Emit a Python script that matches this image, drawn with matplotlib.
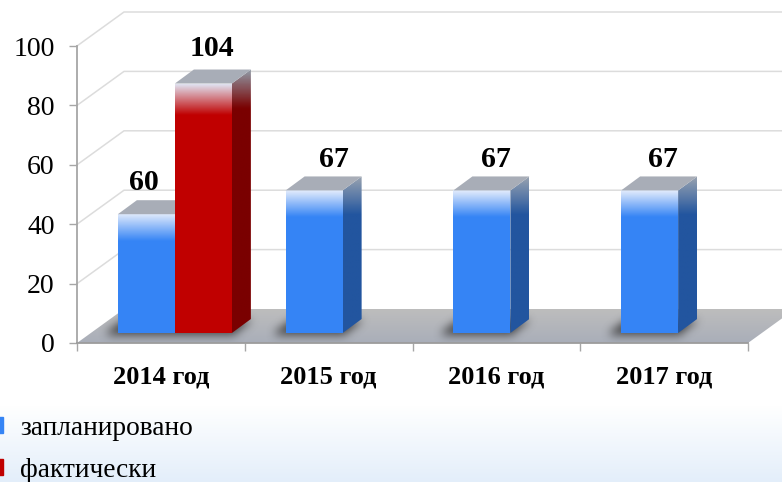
import numpy as np
import matplotlib
matplotlib.use("Agg")
import matplotlib.pyplot as plt
from matplotlib.colors import to_rgb
from matplotlib.patches import Patch, Polygon

years = ["2014 год", "2015 год", "2016 год", "2017 год"]
# bar heights as read on the axis, the printed labels differ from them in the original
planned = [40, 48, 48, 48]
actual = [84, None, None, None]
planned_labels = ["60", "67", "67", "67"]
actual_labels = ["104", None, None, None]
y_ticks = [0, 20, 40, 60, 80, 100]

W, H = 782, 482
px_x = 671 / 4      # pixels per category
px_y = 297 / 100    # pixels per y unit

# depth of the fake 3d box
depth_x = 47 / px_x
depth_y = 34 / px_y
bar_w = 57 / px_x
bar_shift_x = 14 / px_x
bar_shift_y = 10 / px_y
bar_depth_x = 19 / px_x
bar_depth_y = 14 / px_y

plt.rcParams["font.family"] = ["Liberation Serif", "DejaVu Serif"]

fig = plt.figure(figsize=(W / 100, H / 100), dpi=100)

# page background, white fading to pale blue at the bottom
bg = fig.add_axes([0, 0, 1, 1], zorder=-1)
bg.axis("off")
stops = np.interp(np.arange(H), [0, 405, 482], [0, 0, 1])[:, None, None]
bg.imshow((1 - stops) * np.array([1, 1, 1]) + stops * np.array(to_rgb("#e3eefa")), aspect="auto")

ax = fig.add_axes([77 / W, (H - 343) / H, 671 / W, 297 / H])
ax.patch.set_visible(False)

floor_pts = [(0, 0), (4, 0), (4 + depth_x, depth_y), (depth_x, depth_y)]


def shade(points, y_top, y_bottom, c_top, c_bottom, zorder):
    # polygon filled with a vertical gradient
    xs = [p[0] for p in points]
    ys = [p[1] for p in points]
    t = np.linspace(0, 1, 64)[:, None, None]
    img = (1 - t) * np.array(to_rgb(c_top)) + t * np.array(to_rgb(c_bottom))
    # colour stays c_bottom below y_bottom
    rows = np.linspace(max(ys), min(ys), 128)
    frac = np.clip((y_top - rows) / (y_top - y_bottom), 0, 1)
    img = img[(frac * 63).astype(int)]
    im = ax.imshow(img, extent=(min(xs), max(xs), min(ys), max(ys)), aspect="auto",
                   zorder=zorder, interpolation="bilinear")
    clip = Polygon(points, closed=True, transform=ax.transData)
    im.set_clip_box(fig.bbox)
    im.set_clip_path(clip)


def draw_shadow(x0, x1):
    # blurred dark patch on the floor around the foot of a bar, worked out in pixels
    pad = 30
    w_px = int((x1 - x0) * px_x) + 19 + 2 * pad
    h_px = 14 + 2 * pad
    xx, yy = np.meshgrid(np.arange(w_px), np.arange(h_px))
    up = yy - pad          # 0 at the front edge of the foot, 14 at its back
    lean = np.clip(up, 0, 14) * 19 / 14
    inside = (xx - pad > lean - 12) & (xx - pad < lean + (x1 - x0) * px_x + 3) & (up > -3) & (up < 13)
    mask = inside.astype(float)
    kernel = np.ones(9) / 9
    for _ in range(3):
        mask = np.apply_along_axis(lambda r: np.convolve(r, kernel, mode="same"), 0, mask)
        mask = np.apply_along_axis(lambda r: np.convolve(r, kernel, mode="same"), 1, mask)
    img = np.zeros((h_px, w_px, 4))
    img[..., :3] = to_rgb("#262626")
    img[..., 3] = mask * 0.8
    extent = (x0 - pad / px_x, x0 - pad / px_x + w_px / px_x,
              bar_shift_y - pad / px_y, bar_shift_y - pad / px_y + h_px / px_y)
    im = ax.imshow(img, extent=extent, origin="lower", aspect="auto", zorder=2,
                   interpolation="bilinear")
    im.set_clip_box(fig.bbox)
    im.set_clip_path(Polygon(floor_pts, closed=True, transform=ax.transData))


def draw_bar(left, height, front, side, light, side_top, fade, zorder):
    y0 = bar_shift_y
    y1 = y0 + height
    right = left + bar_w
    ax.bar(left, height, bar_w, bottom=y0, align="edge", color=front, zorder=zorder, clip_on=False)
    # front highlight
    shade([(left, y1), (right, y1), (right, y1 - fade / px_y), (left, y1 - fade / px_y)],
          y1, y1 - fade / px_y, light, front, zorder + 0.1)
    # right side
    shade([(right, y0), (right + bar_depth_x, y0 + bar_depth_y),
           (right + bar_depth_x, y1 + bar_depth_y), (right, y1)],
          y1 + bar_depth_y, y1 - 24 / px_y, side_top, side, zorder + 0.1)
    # top
    ax.add_patch(Polygon([(left, y1), (right, y1), (right + bar_depth_x, y1 + bar_depth_y),
                          (left + bar_depth_x, y1 + bar_depth_y)],
                         closed=True, fc="#a8adb7", ec="none", zorder=zorder + 0.1, clip_on=False))


# wall grid
for v in y_ticks[1:]:
    ax.plot([0, depth_x, 4 + depth_x], [v, v + depth_y, v + depth_y], color="#dcdcdc", lw=1.1,
            zorder=1, clip_on=False)

# floor
shade(floor_pts, depth_y, 0, "#bdbdbd", "#a9aeb9", 1.5)

for i in range(len(years)):
    left = i + 0.5 - bar_w + bar_shift_x
    draw_shadow(left, left + (2 * bar_w if actual[i] is not None else bar_w))

# red in front of the blue side, drawn from left to right
for i, year in enumerate(years):
    left = i + 0.5 - bar_w + bar_shift_x
    draw_bar(left, planned[i], "#3584f5", "#22559f", "#e3ecfc", "#98a2b0", 27, 3)
    if actual[i] is not None:
        draw_bar(left + bar_w, actual[i], "#c00000", "#7a0000", "#e0e0ee", "#8f98a4", 31, 4)

# value labels, placed by hand on the slide
label_style = dict(ha="center", va="bottom", fontsize=21.5, fontweight="bold", color="black", zorder=6)
planned_dx = [-3, 20, 14, 13]
for i, text in enumerate(planned_labels):
    left = i + 0.5 - bar_w + bar_shift_x
    ax.annotate(text, (left + bar_w / 2, planned[i] + bar_shift_y + bar_depth_y),
                xytext=(planned_dx[i] * 0.72, 2.8), textcoords="offset points", **label_style)
for i, text in enumerate(actual_labels):
    if text is not None:
        left = i + 0.5 + bar_shift_x
        ax.annotate(text, (left + bar_w / 2, actual[i] + bar_shift_y + bar_depth_y),
                    xytext=(6, 5.5), textcoords="offset points", **label_style)

ax.set_xlim(0, 4)
ax.set_ylim(0, 100)
ax.set_yticks(y_ticks)
ax.set_xticks([0, 1, 2, 3, 4])
ax.set_xticklabels([])
ax.set_xticks([i + 0.5 for i in range(4)], minor=True)
ax.set_xticklabels(years, minor=True, fontsize=19, fontweight="bold")
ax.tick_params(axis="x", which="major", length=6, width=1, color="#a6a6a6")
ax.tick_params(axis="x", which="minor", length=0, pad=16.5)
ax.tick_params(axis="y", length=5.5, width=1, color="#a6a6a6", labelsize=20, pad=10.5)
for s in ["top", "right"]:
    ax.spines[s].set_visible(False)
ax.spines["left"].set_color("#a6a6a6")
ax.spines["left"].set_linewidth(1.3)
ax.spines["bottom"].set_color("#9c9c9c")
ax.spines["bottom"].set_linewidth(1.3)
ax.spines["left"].set_zorder(2)
ax.spines["bottom"].set_zorder(2)

handles = [Patch(color="#3584f5"), Patch(color="#c00000")]
fig.legend(handles, ["запланировано", "фактически"], loc="upper left",
           bbox_to_anchor=(-4 / W, 1 - 416 / H), frameon=False, fontsize=19.7, borderpad=0,
           borderaxespad=0, handlelength=0.26, handleheight=0.52, handletextpad=0.63,
           labelspacing=0.62)

fig.savefig("out.png", dpi=100)
